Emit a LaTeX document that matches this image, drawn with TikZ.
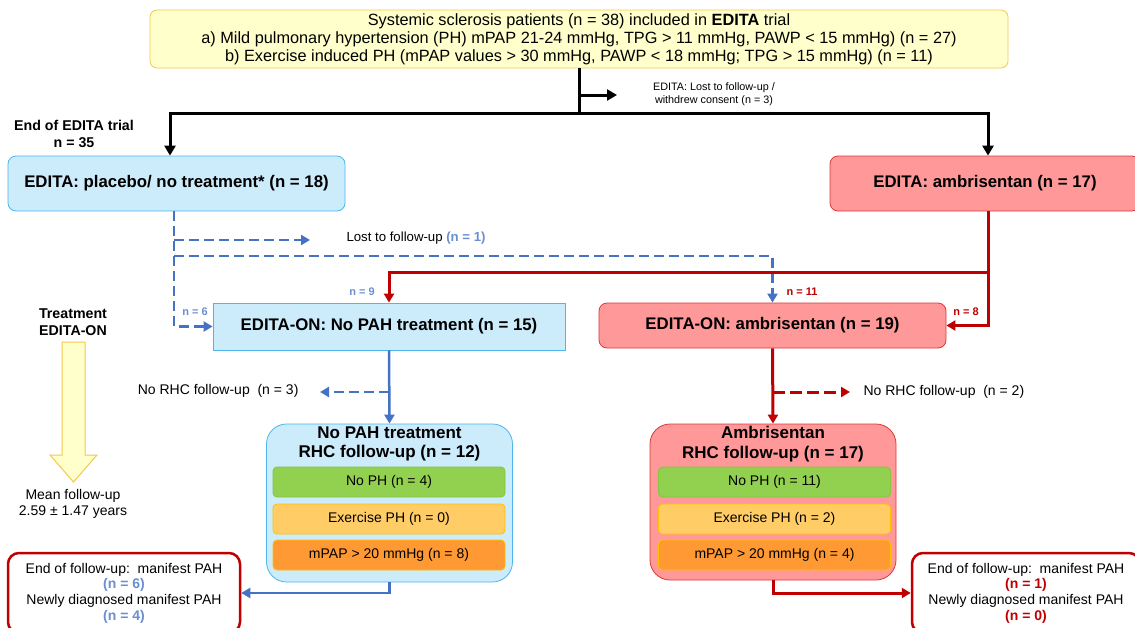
\documentclass[tikz,border=0pt]{standalone}
\usepackage{fontspec}
\setmainfont{Liberation Sans}
\usetikzlibrary{arrows.meta}

\definecolor{ylwfill}{HTML}{FFFFCC}
\definecolor{ylwline}{HTML}{F2C94C}
\definecolor{bluefill}{HTML}{CCEBFB}
\definecolor{blueframe}{HTML}{4DB6EC}
\definecolor{bluepath}{HTML}{4472C4}
\definecolor{bluelabel}{HTML}{6A8FD0}
\definecolor{redfill}{HTML}{FF9999}
\definecolor{redframe}{HTML}{DD3838}
\definecolor{redpath}{HTML}{C00000}
\definecolor{phgreen}{HTML}{92D050}
\definecolor{phgreenline}{HTML}{86C540}
\definecolor{phlight}{HTML}{FFCC66}
\definecolor{phorange}{HTML}{FF9933}
\definecolor{phborder}{HTML}{FFC000}

\begin{document}
\begin{tikzpicture}[x=1pt,y=-1pt,
  every node/.style={font=\fontsize{14}{16}\selectfont},
  topbox/.style={draw=ylwline,fill=ylwfill,rounded corners=7pt,line width=0.8pt,
    minimum width=858pt,minimum height=58pt,align=center,
    font=\fontsize{16.3}{18}\selectfont},
  flowbox/.style={rounded corners=8pt,line width=0.8pt,align=center,
    font=\bfseries\fontsize{16.8}{19}\selectfont},
  bluebox/.style={flowbox,draw=blueframe,fill=bluefill},
  redbox/.style={flowbox,draw=redframe,fill=redfill},
  groupbox/.style={rounded corners=20pt,line width=0.8pt,minimum width=246pt},
  grouptitle/.style={align=center,font=\bfseries\fontsize{17}{19.5}\selectfont},
  phbox/.style={rounded corners=4pt,line width=0.8pt,minimum width=232pt,
    minimum height=30pt},
  endbox/.style={draw=redpath,fill=white,rounded corners=11pt,line width=2.5pt,
    align=center,minimum height=80pt,font=\fontsize{14}{15.7}\selectfont},
  smalltxt/.style={align=center,font=\fontsize{10.8}{13}\selectfont},
  nlbl/.style={font=\bfseries\fontsize{11}{12}\selectfont},
  boldtxt/.style={align=center,font=\bfseries\fontsize{14.2}{16.5}\selectfont},
  blkline/.style={line width=3pt,black},
  blkarrow/.style={blkline,-{Triangle[length=10pt,width=11pt]}},
  bluearrow/.style={line width=2.5pt,bluepath,-{Triangle[length=9pt,width=10pt]}},
  bluedash/.style={line width=2.8pt,bluepath,dash pattern=on 10pt off 5pt},
  bluedasharrow/.style={bluedash,-{Triangle[length=9pt,width=10pt]}},
  redarrow/.style={line width=3pt,redpath,-{Triangle[length=9pt,width=10pt]}},
  reddasharrow/.style={redarrow,dash pattern=on 12pt off 5pt}]

\useasboundingbox (0,0) rectangle (1135,627);

% boxes of the trial
\node[topbox] (trial) at (579,39)
  {Systemic sclerosis patients (n = 38) included in \textbf{EDITA} trial\\
   a) Mild pulmonary hypertension (PH) mPAP 21-24 mmHg, TPG > 11 mmHg, PAWP < 15 mmHg) (n = 27)\\
   b) Exercise induced PH (mPAP values > 30 mmHg, PAWP < 18 mmHg; TPG > 15 mmHg) (n = 11)};
\node[smalltxt] (lostedita) at (714,94) {EDITA: Lost to follow-up /\\withdrew consent (n = 3)};
\node[boldtxt] (endtrial) at (74,134) {End of EDITA trial\\n = 35};

\node[bluebox,minimum width=337pt,minimum height=55pt] (placebo) at (176.5,183.5)
  {EDITA: placebo/ no treatment* (n = 18)};
\node[redbox,minimum width=310pt,minimum height=55pt] (ambri) at (985,183.5)
  {EDITA: ambrisentan (n = 17)};

\node[anchor=west,font=\fontsize{13.2}{15}\selectfont] (lostlbl) at (343,238)
  {Lost to follow-up \textcolor{bluelabel}{\textbf{(n = 1)}}};

\node[bluebox,rounded corners=0pt,minimum width=352pt,minimum height=47pt] (nopahon) at (389,326.5)
  {EDITA-ON: No PAH treatment (n = 15)};
\node[redbox,minimum width=347pt,minimum height=45pt] (ambon) at (772.5,325.5)
  {EDITA-ON: ambrisentan (n = 19)};

\node[nlbl,text=bluelabel] (n9) at (362,292) {n = 9};
\node[nlbl,text=bluelabel] (n6) at (195,312) {n = 6};
\node[nlbl,text=redpath] (n11) at (802,292) {n = 11};
\node[nlbl,text=redpath] (n8) at (966,312) {n = 8};

% follow-up side
\node[boldtxt] (treat) at (73,322) {Treatment\\EDITA-ON};
\draw[ylwline,fill=ylwfill,line width=1pt] (62,342) -- (85,342) -- (85,455) -- (97,455)
  -- (73.5,482) -- (50,455) -- (62,455) -- cycle;
\node[align=center,font=\fontsize{14}{15.5}\selectfont] (meanfu) at (73,504)
  {Mean follow-up\\2.59 ± 1.47 years};

\node[anchor=east] (norhcL) at (302,391) {No RHC follow-up\ \ (n = 3)};
\node[anchor=west] (norhcR) at (860,392) {No RHC follow-up\ \ (n = 2)};

\node[groupbox,draw=blueframe,fill=bluefill,minimum height=158pt] (grpL) at (389.5,503) {};
\node[grouptitle] (grpLtitle) at (389.5,444) {No PAH treatment\\RHC follow-up (n = 12)};
\node[phbox,draw=phgreenline,fill=phgreen] (nophL) at (389,482) {No PH (n = 4)};
\node[phbox,draw=phborder,fill=phlight] (exphL) at (389,519) {Exercise PH (n = 0)};
\node[phbox,draw=phborder,fill=phorange] (mpapL) at (389,555) {mPAP > 20 mmHg (n = 8)};

\node[groupbox,draw=redframe,fill=redfill,minimum height=156pt] (grpR) at (773,502) {};
\node[grouptitle] (grpRtitle) at (773,444) {Ambrisentan\\RHC follow-up (n = 17)};
\node[phbox,draw=phgreenline,fill=phgreen] (nophR) at (774.5,482) {No PH (n = 11)};
\node[phbox,draw=phborder,fill=phlight] (exphR) at (774.5,519) {Exercise PH (n = 2)};
\node[phbox,draw=phborder,fill=phorange] (mpapR) at (774.5,555) {mPAP > 20 mmHg (n = 4)};

\node[endbox,minimum width=232pt] (endL) at (124,593)
  {End of follow-up:\ \ manifest PAH\\\textcolor{bluelabel}{\textbf{(n = 6)}}\\
   Newly diagnosed manifest PAH\\\textcolor{bluelabel}{\textbf{(n = 4)}}};
\node[endbox,minimum width=228pt] (endR) at (1026,593)
  {End of follow-up:\ \ manifest PAH\\\textcolor{redpath}{\textbf{(n = 1)}}\\
   Newly diagnosed manifest PAH\\\textcolor{redpath}{\textbf{(n = 0)}}};

% connectors
\coordinate (jTop) at (579,113);
\coordinate (jLeft) at (170,113);
\coordinate (jRight) at (988,113);
\coordinate (lostTip) at (617,95);
\draw[blkline] (trial.south) -- (jTop);
\draw[blkline,line cap=rect] (jLeft) -- (jRight);
\draw[blkarrow] (jLeft) -- (jLeft |- placebo.north);
\draw[blkarrow] (jRight) -- (jRight |- ambri.north);
\draw[blkarrow] (trial.south |- lostTip) -- (lostTip);

\coordinate (bSplit) at (174,256);
\coordinate (lostTip2) at (310,240);
\draw[bluedasharrow] (bSplit |- placebo.south) |- (nopahon.west);
\draw[bluedasharrow] (bSplit |- lostTip2) -- (lostTip2);
\draw[bluedasharrow] (bSplit) -| (ambon.north);

\coordinate (rSplit) at (988,272);
\draw[redarrow] (rSplit |- ambri.south) |- (ambon.east);
\draw[redarrow] (rSplit) -| (nopahon.north);

\coordinate (lBranch) at (320,392);
\coordinate (rBranch) at (850,392);
\draw[bluearrow] (nopahon.south) -- (grpL.north);
\draw[bluedasharrow] (nopahon.south |- lBranch) -- (lBranch);
\draw[bluearrow] (grpL.south) |- (endL.east);
\draw[redarrow] (ambon.south) -- (grpR.north);
\draw[reddasharrow] (ambon.south |- rBranch) -- (rBranch);
\draw[redarrow] (grpR.south) |- (endR.west);

\end{tikzpicture}
\end{document}
